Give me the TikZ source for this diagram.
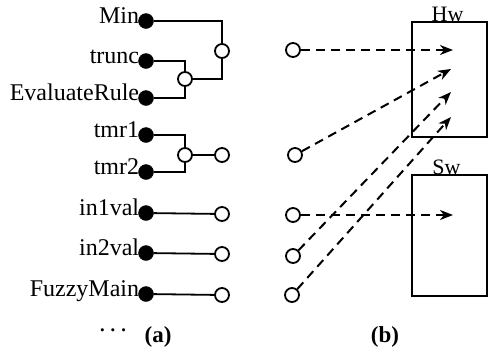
\documentclass[tikz,border=0pt]{standalone}
\usepackage{fontspec}
\setmainfont{Liberation Serif}
\usetikzlibrary{positioning,arrows.meta}

\begin{document}
\begin{tikzpicture}[
    x=1pt, y=-1pt,
    port/.style={circle, fill=black, draw=black, minimum size=15pt, inner sep=0pt},
    pin/.style={circle, draw=black, line width=1.8pt, fill=white, minimum size=14pt, inner sep=0pt},
    lbl/.style={font=\fontsize{24}{26}\selectfont, inner sep=0pt, anchor=base east},
    tag/.style={font=\fontsize{22}{24}\selectfont, inner sep=0pt, anchor=base},
    unit/.style={rectangle, draw=black, line width=2pt, minimum width=75pt, inner sep=0pt},
    wire/.style={line width=1.8pt},
    flow/.style={line width=2pt, dash pattern=on 9pt off 6pt, -{Stealth[length=13pt, width=10pt, inset=4pt]}}
]
\useasboundingbox (0,0) rectangle (489,354);

% (a) ports and their joins
\node[port] (dmin) at (146,21) {};
\node[port] (dtrunc) at (146,61) {};
\node[port] (deval) at (146,98) {};
\node[port] (dtmr1) at (146,135) {};
\node[port] (dtmr2) at (146,172) {};
\node[port] (din1) at (146,213) {};
\node[port] (din2) at (146,253) {};
\node[port] (dmain) at (146,294) {};

\node[lbl] at ([xshift=1pt, yshift=-2pt]dmin.west) {Min};
\node[lbl] at ([xshift=1pt, yshift=-2pt]dtrunc.west) {trunc};
\node[lbl] at ([xshift=1pt, yshift=-2pt]deval.west) {EvaluateRule};
\node[lbl] at ([xshift=1pt, yshift=-2pt]dtmr1.west) {tmr1};
\node[lbl] at ([xshift=1pt, yshift=-2pt]dtmr2.west) {tmr2};
\node[lbl] at ([xshift=1pt, yshift=-2pt]din1.west) {in1val};
\node[lbl] at ([xshift=1pt, yshift=-2pt]din2.west) {in2val};
\node[lbl] at ([xshift=1pt, yshift=-2pt]dmain.west) {FuzzyMain};

\node[pin] (j1) at (222,51) {};
\node[pin] (j2) at (185,79) {};
\node[pin] (j3) at (185,155) {};
\node[pin] (o4) at (222,155) {};
\node[pin] (o5) at (222,214) {};
\node[pin] (o6) at (222,254) {};
\node[pin] (o7) at (222,295) {};

\draw[wire] (dmin) -| (j1);
\draw[wire] (j1) |- (j2);
\draw[wire] (dtrunc) -| (j2);
\draw[wire] (deval) -| (j2);
\draw[wire] (dtmr1) -| (j3);
\draw[wire] (dtmr2) -| (j3);
\draw[wire] (j3) -- (o4);
\draw[wire] (din1) -- (o5);
\draw[wire] (din2) -- (o6);
\draw[wire] (dmain) -- (o7);

\node[font=\fontsize{20}{22}\selectfont\boldmath] (dots) at (113,331) {$\cdots$};
\node[font=\fontsize{23}{25}\selectfont\bfseries] (capa) at (158,337) {(a)};

% (b) mapping onto Hw / Sw
\node[unit, minimum height=115pt] (hw) at (449.5,79.5) {};
\node[unit, minimum height=121pt] (sw) at (449.5,235.5) {};
\node[tag] (hwlbl) at ([xshift=-2pt, yshift=0pt]hw.north) {Hw};
\node[tag] (swlbl) at ([xshift=-3pt, yshift=0pt]sw.north) {Sw};

\node[pin] (r1) at (293,50) {};
\node[pin] (r2) at (295,155) {};
\node[pin] (r3) at (293,215) {};
\node[pin] (r4) at (293,256) {};
\node[pin] (r5) at (292,295) {};

\coordinate (e1) at (453,50);
\coordinate (e2) at (451,69);
\coordinate (e3) at (451,92);
\coordinate (e4) at (451,117);
\coordinate (e5) at (453,215);

\draw[flow] (r1) -- (e1);
\draw[flow] (r2) -- (e2);
\draw[flow] (r3) -- (e5);
\draw[flow] (r4) -- (e3);
\draw[flow] (r5) -- (e4);

\node[font=\fontsize{23}{25}\selectfont\bfseries] (capb) at (385,337) {(b)};
\end{tikzpicture}
\end{document}
